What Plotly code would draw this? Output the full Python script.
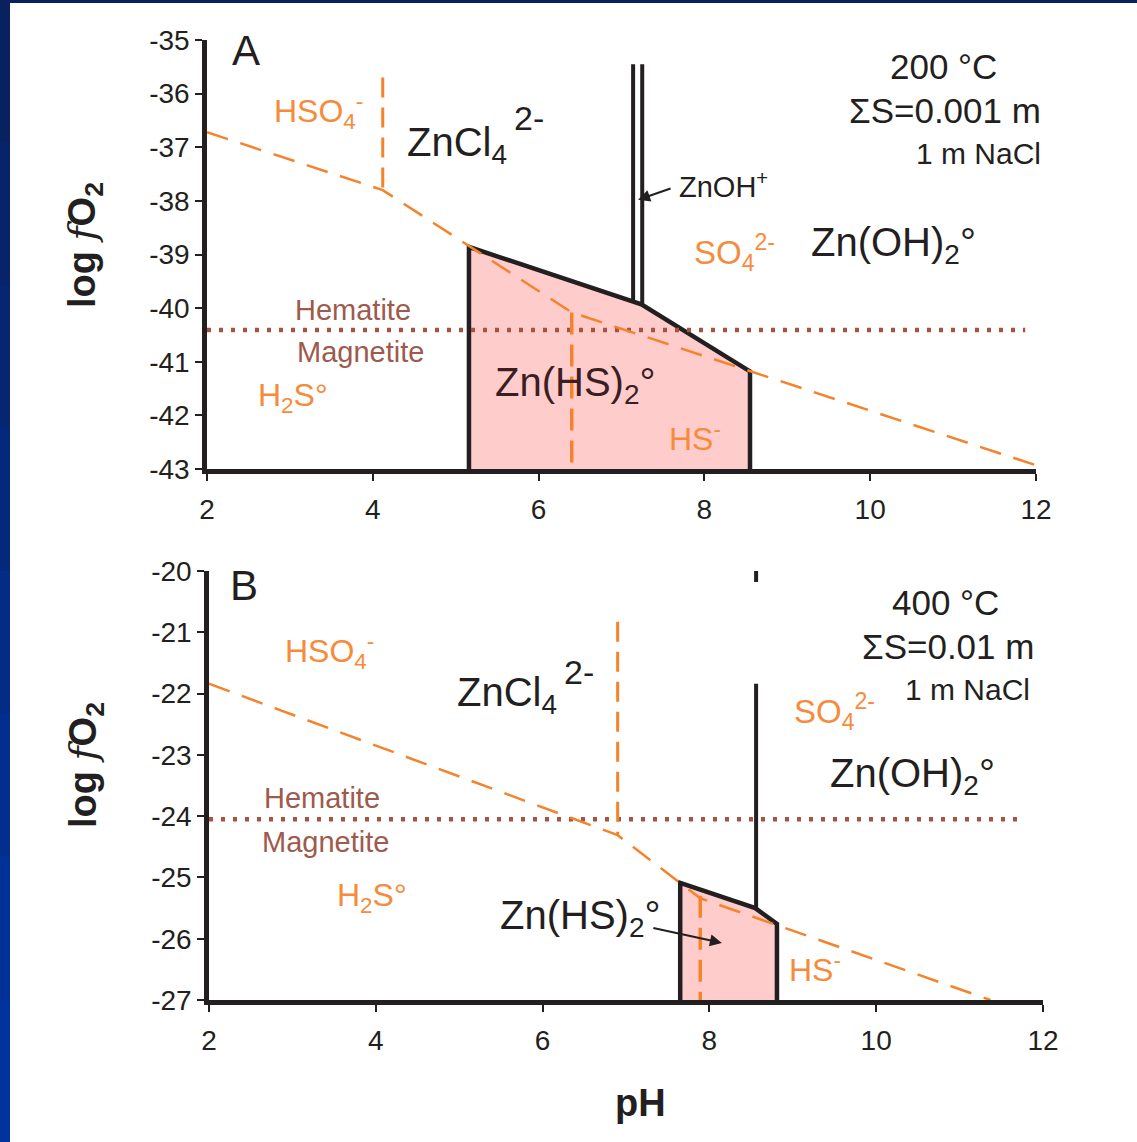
import plotly.graph_objects as go

# ---------------- data ----------------
# Panel A : 200 °C, ΣS = 0.001 m, 1 m NaCl
A_sulfur_pH = [2.0, 4.12, 6.40, 12.0]
A_sulfur_logfO2 = [-36.72, -37.80, -40.08, -42.93]
A_hso4_so4_pH = [4.12, 4.12]
A_hso4_so4_logfO2 = [-35.70, -37.80]
A_h2s_hs_pH = [6.40, 6.40]
A_h2s_hs_logfO2 = [-40.08, -43.0]
A_znhs2_pH = [5.16, 5.16, 7.24, 8.55, 8.55]
A_znhs2_logfO2 = [-43.0, -38.86, -39.93, -41.18, -43.0]
A_znoh_left_pH = [7.14, 7.14]
A_znoh_left_logfO2 = [-35.45, -39.88]
A_znoh_right_pH = [7.25, 7.25]
A_znoh_right_logfO2 = [-35.45, -39.94]
A_hm_pH = [2.0, 11.87]
A_hm_logfO2 = [-40.41, -40.41]

# Panel B : 400 °C, ΣS = 0.01 m, 1 m NaCl
B_sulfur_pH = [2.0, 6.90, 7.89, 11.37]
B_sulfur_logfO2 = [-21.84, -24.31, -25.34, -27.0]
B_hso4_so4_pH = [6.90, 6.90]
B_hso4_so4_logfO2 = [-20.83, -24.31]
B_h2s_hs_pH = [7.89, 7.89]
B_h2s_hs_logfO2 = [-25.30, -27.0]
B_znhs2_pH = [7.65, 7.65, 8.55, 8.81, 8.81]
B_znhs2_logfO2 = [-27.0, -25.09, -25.50, -25.76, -27.0]
B_znoh_top_pH = [8.56, 8.56]
B_znoh_top_logfO2 = [-19.96, -20.18]
B_znoh_pH = [8.56, 8.56]
B_znoh_logfO2 = [-21.84, -25.50]
B_hm_pH = [2.0, 11.78]
B_hm_logfO2 = [-24.05, -24.05]

x_ticks = [2, 4, 6, 8, 10, 12]
A_y_ticks = [-35, -36, -37, -38, -39, -40, -41, -42, -43]
B_y_ticks = [-20, -21, -22, -23, -24, -25, -26, -27]

# ---------------- styles ----------------
W, H = 1137, 1142
ORANGE = "#F5832B"
ORANGE_T = "#F68B3C"
BROWN = "#A4543F"
BROWN_T = "#9E5A4C"
BLACK = "#231F20"
PINK = "#FFCCCC"
FONT = "Liberation Sans"

fig = go.Figure()


def line(x, y, xa, ya, color, width, dash="solid"):
    fig.add_trace(go.Scatter(x=x, y=y, xaxis=xa, yaxis=ya, mode="lines",
                             line=dict(color=color, width=width, dash=dash),
                             hoverinfo="skip", showlegend=False))


for p, xa, ya in (("A", "x", "y"), ("B", "x2", "y2")):
    g = globals()
    # Zn(HS)2 field
    fig.add_trace(go.Scatter(x=g[p + "_znhs2_pH"], y=g[p + "_znhs2_logfO2"],
                             xaxis=xa, yaxis=ya, mode="lines", fill="toself",
                             fillcolor=PINK, line=dict(color=BLACK, width=4.5),
                             hoverinfo="skip", showlegend=False))
    # hematite / magnetite
    line(g[p + "_hm_pH"], g[p + "_hm_logfO2"], xa, ya, BROWN, 4.5, "4px,8px")
    # sulfur predominance boundaries
    line(g[p + "_sulfur_pH"], g[p + "_sulfur_logfO2"], xa, ya, ORANGE, 2.5, "22px,13px")
    line(g[p + "_hso4_so4_pH"], g[p + "_hso4_so4_logfO2"], xa, ya, ORANGE, 3, "20px,10px")
    line(g[p + "_h2s_hs_pH"], g[p + "_h2s_hs_logfO2"], xa, ya, ORANGE, 3.5, "22px,10px")

line(A_znoh_left_pH, A_znoh_left_logfO2, "x", "y", BLACK, 4)
line(A_znoh_right_pH, A_znoh_right_logfO2, "x", "y", BLACK, 4)
line(B_znoh_top_pH, B_znoh_top_logfO2, "x2", "y2", BLACK, 4)
line(B_znoh_pH, B_znoh_logfO2, "x2", "y2", BLACK, 4)

# ---------------- axes ----------------
def axis_common(vals, standoff):
    return dict(showgrid=False, zeroline=False, showline=True, linecolor=BLACK,
                linewidth=4.5, ticks="outside", ticklen=7, tickwidth=2,
                tickcolor=BLACK, tickfont=dict(family=FONT, size=28, color=BLACK),
                tickvals=vals, ticktext=[str(v) for v in vals], mirror=False,
                automargin=False, ticklabelstandoff=standoff)

fig.update_layout(
    width=W, height=H, margin=dict(l=0, r=0, t=0, b=0, pad=0),
    paper_bgcolor="white", plot_bgcolor="white",
    xaxis=dict(domain=[207 / W, 1036 / W], range=[2, 12],
               anchor="y", **axis_common(x_ticks, 5)),
    yaxis=dict(domain=[1 - 469 / H, 1 - 40 / H], range=[-43, -35],
               anchor="x", **axis_common(A_y_ticks, 0)),
    xaxis2=dict(domain=[209 / W, 1043 / W], range=[2, 12],
                anchor="y2", **axis_common(x_ticks, 5)),
    yaxis2=dict(domain=[1 - 1000 / H, 1 - 571 / H], range=[-27, -20],
                anchor="x2", **axis_common(B_y_ticks, 0)),
)

# ---------------- background frame (dark blue slide border) ----------------
blues = ["#0A2160", "#08236A", "#062672", "#04297C", "#032C86", "#022F8E", "#013196", "#00339B"]
n = len(blues)
for i, c in enumerate(blues):
    fig.add_shape(type="rect", xref="paper", yref="paper", layer="below",
                  x0=0, x1=10 / W, y0=1 - (i + 1) / n - 0.001, y1=1 - i / n,
                  fillcolor=c, line=dict(width=0))
fig.add_shape(type="rect", xref="paper", yref="paper", layer="below",
              x0=0, x1=1, y0=1 - 3 / H, y1=1, fillcolor="#0A2160", line=dict(width=0))

# ---------------- text ----------------
def txt(x, y, s, xa, ya, size, color=BLACK, xanchor="center"):
    fig.add_annotation(x=x, y=y, xref=xa, yref=ya, text=s,
                       showarrow=False, xanchor=xanchor, yanchor="middle",
                       font=dict(family=FONT, size=size, color=color))


def arrow(x0, y0, x1, y1, xa, ya):
    fig.add_annotation(x=x1, y=y1, ax=x0, ay=y0, xref=xa, yref=ya, axref=xa, ayref=ya,
                       text="", showarrow=True, arrowhead=2, arrowsize=1.2,
                       arrowwidth=2, arrowcolor=BLACK)

# panel A
txt(2.28, -35.2, "A", "x", "y", 42, xanchor="left")
txt(3.34, -36.34, "HSO<sub>4</sub><sup>-</sup>", "x", "y", 32, ORANGE_T)
txt(4.39, -36.96, "ZnCl<sub>4</sub>", "x", "y", 40, xanchor="left")
txt(5.68, -36.45, "2-", "x", "y", 34, xanchor="left")
txt(10.88, -35.5, "200 °C", "x", "y", 35)
txt(10.90, -36.31, "ΣS=0.001 m", "x", "y", 35)
fig.add_annotation(x=1043 / W, y=-37.11, xref="paper", yref="y", text="1 m NaCl",
                   showarrow=False, xanchor="right", yanchor="middle",
                   font=dict(family=FONT, size=30, color=BLACK))
txt(7.67, -37.7, "ZnOH<sup>+</sup>", "x", "y", 29, xanchor="left")
arrow(7.61, -37.76, 7.2, -37.98, "x", "y")
txt(8.36, -38.97, "SO<sub>4</sub><sup>2-</sup>", "x", "y", 33, ORANGE_T)
txt(10.28, -38.82, "Zn(OH)<sub>2</sub>°", "x", "y", 40)
txt(3.76, -40.03, "Hematite", "x", "y", 29, BROWN_T)
txt(3.85, -40.82, "Magnetite", "x", "y", 29, BROWN_T)
txt(3.04, -41.66, "H<sub>2</sub>S°", "x", "y", 32, ORANGE_T)
txt(6.44, -41.43, "Zn(HS)<sub>2</sub>°", "x", "y", 40, "#3A1E22")
txt(7.89, -42.40, "HS<sup>-</sup>", "x", "y", 32, ORANGE_T)

# panel B
txt(2.23, -20.23, "B", "x2", "y2", 42, xanchor="left")
txt(3.45, -21.32, "HSO<sub>4</sub><sup>-</sup>", "x2", "y2", 32, ORANGE_T)
txt(4.95, -22.03, "ZnCl<sub>4</sub>", "x2", "y2", 40, xanchor="left")
txt(6.23, -21.65, "2-", "x2", "y2", 34, xanchor="left")
txt(10.83, -20.52, "400 °C", "x2", "y2", 35)
txt(10.86, -21.24, "ΣS=0.01 m", "x2", "y2", 35)
txt(11.87, -21.94, "1 m NaCl", "x2", "y2", 30, xanchor="right")
txt(9.50, -22.30, "SO<sub>4</sub><sup>2-</sup>", "x2", "y2", 33, ORANGE_T)
txt(10.43, -23.34, "Zn(OH)<sub>2</sub>°", "x2", "y2", 40)
txt(3.35, -23.70, "Hematite", "x2", "y2", 29, BROWN_T)
txt(3.40, -24.42, "Magnetite", "x2", "y2", 29, BROWN_T)
txt(3.95, -25.32, "H<sub>2</sub>S°", "x2", "y2", 32, ORANGE_T)
txt(6.45, -25.66, "Zn(HS)<sub>2</sub>°", "x2", "y2", 40)
arrow(7.31, -25.82, 8.15, -26.07, "x2", "y2")
txt(9.27, -26.48, "HS<sup>-</sup>", "x2", "y2", 32, ORANGE_T)

# axis titles
ytitle = ("<b>log </b><span style='font-family:DejaVu Serif'><i>f</i></span>"
          "<b>O<sub>2</sub></b>")
for yc in (245, 765):
    fig.add_annotation(x=85 / W, y=1 - yc / H, xref="paper", yref="paper", text=ytitle,
                       showarrow=False, textangle=-90, xanchor="center", yanchor="middle",
                       font=dict(family=FONT, size=38, color=BLACK))
fig.add_annotation(x=640 / W, y=1 - 1103 / H, xref="paper", yref="paper", text="<b>pH</b>",
                   showarrow=False, xanchor="center", yanchor="middle",
                   font=dict(family=FONT, size=38, color=BLACK))

fig.write_html("out.html")
